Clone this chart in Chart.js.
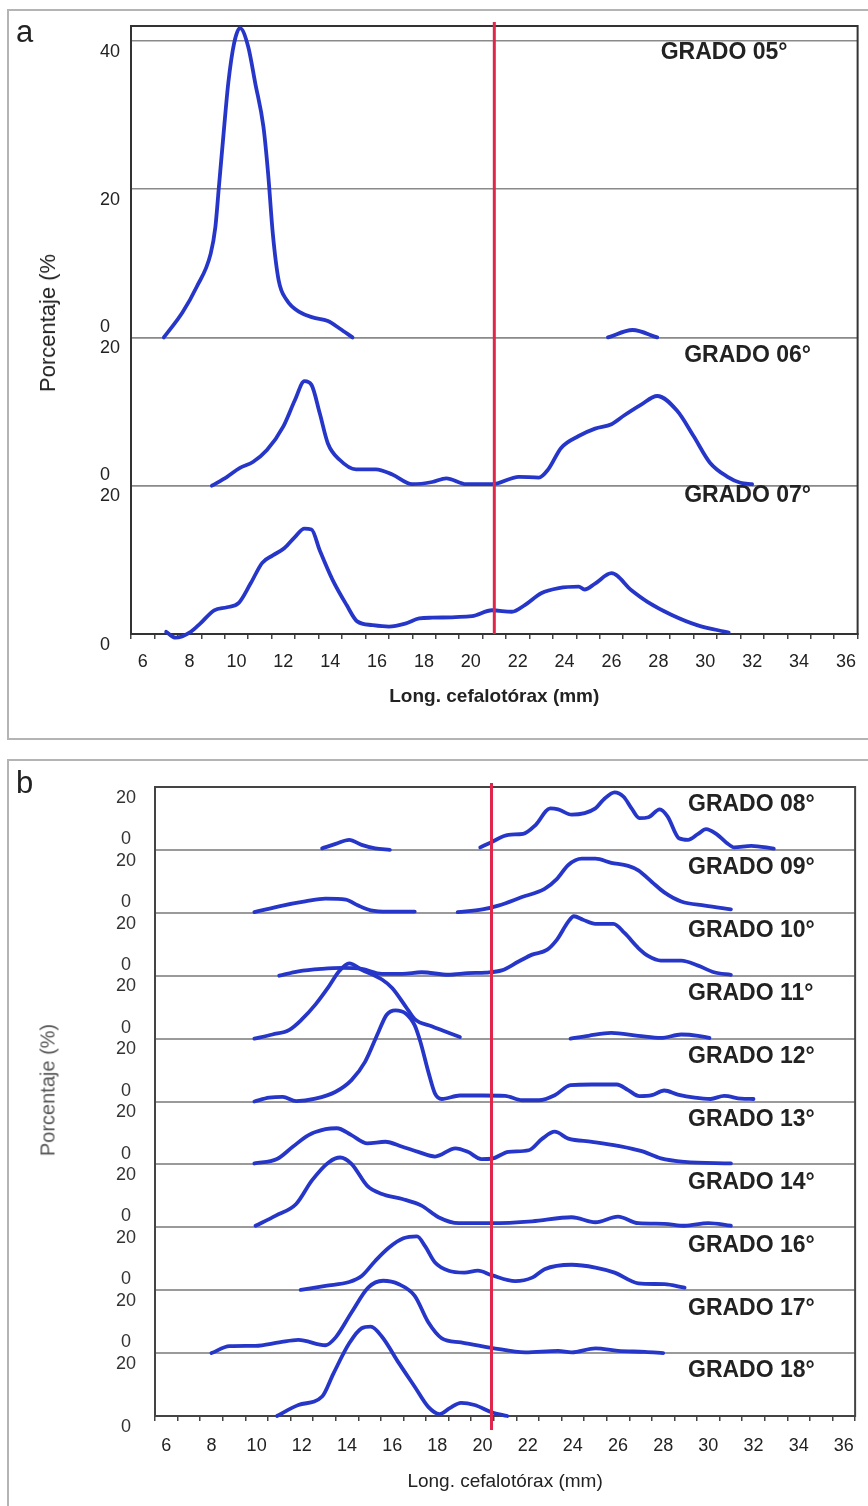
<!DOCTYPE html>
<html lang="es">
<head>
<meta charset="utf-8">
<title>Long. cefalotórax por grado</title>
<script src="https://cdn.jsdelivr.net/npm/chart.js@4.4.1/dist/chart.umd.min.js"></script>
<style>
  html, body { margin: 0; padding: 0; background: #fff; }
  body { position: relative; width: 868px; height: 1506px; overflow: hidden;
         font-family: "Liberation Sans", Arial, sans-serif; color: #222; }
  .box { position: absolute; border: 2px solid #b4b4b4; }
  #boxA { left: 7px; top: 9px; width: 880px; height: 727px; }
  #boxB { left: 7px; top: 759px; width: 880px; height: 780px; }
  canvas { position: absolute; left: 0; }
  #chartA { top: 0; }
  #chartB { top: 750px; }
  .panel { position: absolute; font-size: 31px; line-height: 31px; z-index: 2; }
  .ytitle { position: absolute; white-space: nowrap; z-index: 2;
            transform: translate(-50%, -50%) rotate(-90deg); }
</style>
</head>
<body>
<div class="box" id="boxA"></div>
<div class="box" id="boxB"></div>
<canvas id="chartA" width="868" height="745"></canvas>
<canvas id="chartB" width="868" height="756"></canvas>
<div class="panel" style="left:16px; top:16px;">a</div>
<div class="panel" style="left:16px; top:767px;">b</div>
<div class="ytitle" style="left:48px; top:323px; font-size:22px;">Porcentaje (%</div>
<div class="ytitle" style="left:48px; top:1090px; font-size:20px; color:#555;">Porcentaje (%)</div>
<script>
// eje x (mm) y marcas
const xLabels = [6, 8, 10, 12, 14, 16, 18, 20, 22, 24, 26, 28, 30, 32, 34, 36];
const ticksBig = [0, 20, 40];
const ticksBand = [0, 20];
const redLineA = 21;
const redLineB = 20.4;

// [long. cefalotorax, porcentaje] -- null corta la curva
const grado05 = [[6.9,0],[7.7,3.4],[8.3,6.8],[8.9,11.3],[9.1,14.9],[9.25,20.3],[9.45,27.5],[9.65,34.3],[9.9,39.7],[10.15,41.7],[10.5,39.2],[10.8,34.3],[11.15,28.4],[11.35,22.1],[11.55,14.0],[11.8,7.7],[12.15,5.0],[12.7,3.4],[13.25,2.7],[13.9,2.2],[14.4,1.2],[14.95,0],[20,null],[25.85,0],[26.9,1.0],[27.95,0]];
const grado06 = [[8.95,0],[9.6,1.2],[10.15,2.4],[10.7,3.2],[11.3,4.8],[12,8.0],[12.5,11.6],[12.9,14.1],[13.2,13.6],[13.55,9.8],[13.9,5.7],[14.4,3.5],[15.1,2.2],[15.95,2.2],[16.65,1.5],[17.5,0.2],[18.35,0.5],[18.95,1.0],[19.8,0.2],[20.9,0.2],[22.05,1.2],[22.9,1.1],[23.3,2.2],[23.85,5.1],[24.6,6.7],[25.3,7.7],[26,8.3],[26.55,9.5],[27.25,10.9],[27.95,12.1],[28.8,10.1],[29.5,6.7],[30.2,3.1],[30.95,1.2],[31.5,0.4],[32,0.2]];
const grado07 = [[7,0.3],[7.4,-0.5],[8.05,0.3],[8.45,1.4],[9.05,3.2],[9.6,3.6],[10.1,4.2],[10.6,6.8],[11.1,9.6],[11.55,10.6],[12.05,11.6],[12.5,13.1],[12.9,14.2],[13.2,14.1],[13.55,11.3],[14.1,7.3],[14.7,3.9],[15.15,1.7],[15.8,1.2],[16.5,1.0],[17.2,1.4],[17.8,2.1],[18.35,2.2],[20.05,2.4],[20.9,3.2],[21.75,3.0],[22.3,3.9],[23,5.5],[23.75,6.2],[24.6,6.4],[24.85,6.0],[25.3,6.8],[26,8.2],[26.85,5.9],[27.55,4.3],[28.55,2.6],[29.65,1.2],[31,0.2]];

const grado08 = [[12.9,0.5],[13.5,1.9],[14.1,3.2],[14.65,1.6],[15.25,0.5],[15.9,0],[18,null],[19.9,0.8],[20.35,2.3],[21.15,4.8],[21.8,5.1],[22.35,7.9],[23,13.2],[23.35,12.9],[23.95,11.2],[25,13.2],[25.35,15.9],[25.85,18.3],[26.25,16.9],[26.6,13.2],[26.95,10.1],[27.35,10.4],[27.85,12.9],[28.2,10.6],[28.7,3.7],[29.1,3.2],[29.55,5.1],[29.9,6.6],[30.35,5.1],[30.8,2.3],[31.15,0.8],[31.9,1.3],[32.9,0.4]];
const grado09 = [[9.9,0.2],[11.15,2.3],[12.15,3.6],[13.05,4.5],[13.95,4.2],[14.5,2.3],[15.05,0.8],[15.85,0.4],[17,0.4],[18,null],[18.9,0.2],[20,1.1],[20.7,2.3],[21.75,5.0],[22.75,7.6],[23.3,10.8],[23.8,15.2],[24.4,17.2],[25,17.2],[25.7,15.9],[26.45,14.9],[26.9,13.5],[27.5,9.8],[28.05,6.5],[28.8,3.6],[29.85,2.3],[31,1.1]];
const grado10 = [[11,0],[11.85,1.4],[12.9,2.2],[13.8,2.5],[14.65,2.2],[15.55,0.6],[16.45,0.6],[17.3,1.1],[18.5,0.3],[19.35,0.8],[20.15,1.0],[20.85,1.7],[21.6,4.5],[22.2,6.7],[22.85,8.2],[23.3,11.5],[23.8,17.2],[24.05,18.9],[24.45,17.8],[25,16.5],[25.8,16.5],[26.3,13.5],[26.9,8.8],[27.35,6.2],[27.9,4.8],[28.8,4.8],[29.55,3.2],[30.25,1.1],[31,0.3]];
const grado11 = [[9.9,0],[10.7,1.3],[11.45,2.8],[12,6.1],[12.6,10.8],[13.2,16.6],[13.65,21.4],[14.1,23.9],[14.65,21.9],[15.55,18.8],[16,16.1],[16.6,10.2],[17,6.2],[17.75,3.9],[19,0.5],[21,null],[23.9,0],[24.7,0.9],[25.7,1.8],[26.9,0.9],[27.9,0.2],[28.8,1.3],[29.55,0.9],[30.05,0.2]];
const grado12 = [[9.9,0],[10.55,1.2],[11.15,1.5],[11.75,0.1],[12.6,0.9],[13.5,3.1],[14.2,6.8],[14.8,12.6],[15.4,22.2],[15.75,27.5],[16.15,29.0],[16.6,28.0],[17,24.2],[17.25,19.0],[17.6,9.5],[17.9,2.5],[18.2,0.8],[19,1.9],[20,1.9],[21,1.8],[21.75,0.4],[22.5,0.4],[23.2,2.0],[23.9,5.2],[24.85,5.4],[25.95,5.4],[26.45,3.6],[26.95,1.7],[27.5,2.0],[28.05,3.5],[28.65,2.2],[29.4,1.2],[30.1,0.8],[30.7,1.8],[31.45,0.9],[32,0.8]];
const grado13 = [[9.9,0.3],[10.9,1.7],[11.6,5.6],[12.3,9.3],[13.05,11.2],[13.55,11.5],[14.2,9.3],[14.9,6.7],[15.7,7.2],[16.45,5.6],[17.15,4.0],[17.9,2.5],[18.8,5.1],[19.35,4.0],[19.95,1.7],[20.4,1.8],[21.15,4.0],[22.05,4.5],[22.65,8.2],[23.2,10.4],[23.8,8.2],[24.85,7.2],[26,5.9],[27.05,4.2],[27.9,1.9],[28.95,0.8],[31,0.3]];
const grado14 = [[9.95,0.5],[10.85,3.7],[11.75,7.4],[12.45,14.9],[13.2,20.7],[13.7,22.2],[14.2,20.2],[14.9,13.2],[15.55,10.6],[16.45,9.0],[17.3,6.9],[18.05,3.2],[18.95,1.3],[20.4,1.3],[22.2,1.9],[23.95,3.2],[25,1.6],[26,3.4],[26.9,1.3],[28.05,1.1],[28.95,0.5],[30,1.3],[31,0.5]];
const grado16 = [[11.95,0.1],[13.05,1.4],[14.1,2.6],[14.65,4.5],[15.25,9.3],[15.85,13.5],[16.5,16.5],[17.1,17.1],[17.45,14.1],[17.9,8.8],[18.5,6.2],[19.2,5.6],[19.8,6.2],[20.4,4.8],[21.45,2.9],[22.2,4.0],[22.75,6.7],[23.95,8.1],[25,7.2],[25.85,5.6],[26.9,2.2],[28.05,1.9],[28.95,0.8]];
const grado17 = [[8,0],[8.8,2.2],[9.95,2.3],[11,3.4],[11.85,4.2],[13.05,2.5],[13.5,5.0],[14.2,12.9],[14.95,20.9],[15.6,23.0],[16.3,21.9],[17,18.2],[17.6,9.8],[18.2,4.7],[19.05,3.4],[20.4,1.7],[21.9,0.2],[23.35,0.7],[23.95,0.2],[25,1.5],[26,0.7],[27.2,0.4],[28,0]];
const grado18 = [[10.9,0],[11.85,3.5],[12.9,6.2],[13.4,13.5],[14.1,23.1],[14.65,27.9],[15.05,28.4],[15.55,25.2],[16.3,16.8],[17,9.3],[17.6,2.9],[18.1,0.6],[18.55,2.5],[19.05,4.2],[19.65,3.5],[20.4,1.2],[21.1,0]];

const FONT = "'Liberation Sans', Arial, sans-serif";
const BLUE = '#2636c9';
const RED = '#e0264a';

// marcas menores del eje x cada 1 mm
const minorTicks = [];
for (let v = xLabels[0]; v <= xLabels[xLabels.length - 1]; v++) minorTicks.push(v);

const framePlugin = {
    id: 'frame',
    beforeDatasetsDraw(chart, args, opts) {
        const { ctx, chartArea: a } = chart;
        ctx.save();
        ctx.strokeStyle = opts.color;
        ctx.lineWidth = opts.width;
        ctx.strokeRect(a.left, a.top, a.right - a.left, a.bottom - a.top);
        ctx.restore();
    }
};

const refLinePlugin = {
    id: 'refLine',
    afterDatasetsDraw(chart, args, opts) {
        const { ctx, chartArea: a } = chart;
        const x = chart.scales.x.getPixelForValue(opts.value);
        ctx.save();
        ctx.strokeStyle = opts.color;
        ctx.lineWidth = opts.width;
        ctx.beginPath();
        ctx.moveTo(x, a.top - opts.above);
        ctx.lineTo(x, a.bottom + opts.below);
        ctx.stroke();
        ctx.restore();
    }
};

const bandLabelPlugin = {
    id: 'bandLabels',
    afterDatasetsDraw(chart, args, opts) {
        const { ctx } = chart;
        ctx.save();
        ctx.font = opts.font;
        ctx.fillStyle = opts.color;
        ctx.textAlign = 'left';
        ctx.textBaseline = 'middle';
        opts.items.forEach(it => {
            const sc = chart.scales[it.axis];
            ctx.fillText(it.text, chart.scales.x.getPixelForValue(it.x), sc.top + it.dy);
        });
        ctx.restore();
    }
};

function lineDataset(label, pairs, axis) {
    return {
        label: label,
        data: pairs.map(([x, y]) => ({ x, y })),
        xAxisID: 'x', yAxisID: axis,
        borderColor: BLUE, borderWidth: 3.8,
        pointRadius: 0, fill: false, spanGaps: false, clip: false,
        cubicInterpolationMode: 'monotone',
        borderCapStyle: 'round', borderJoinStyle: 'round'
    };
}

function xAxis(o) {
    return {
        type: 'linear', min: 5.5, max: 36.5,
        afterBuildTicks: s => { s.ticks = minorTicks.map(v => ({ value: v })); },
        afterFit: s => { s.height = o.height; },
        grid: { drawOnChartArea: false, offset: true, tickLength: 5, color: '#444', lineWidth: 1.5 },
        border: { color: '#333', width: 2 },
        ticks: {
            autoSkip: false, maxRotation: 0, padding: o.padding,
            font: { family: FONT, size: 18 }, color: '#222',
            callback: v => xLabels.includes(v) ? String(v) : ''
        },
        title: {
            display: true, text: 'Long. cefalotórax (mm)', padding: 0, color: '#222',
            font: { family: FONT, size: 19, weight: o.titleWeight }
        }
    };
}

function bandAxis(o) {
    return {
        type: 'linear', position: 'left',
        stack: o.stack, stackWeight: o.max, weight: o.order,
        min: 0, max: o.max,
        afterBuildTicks: s => { s.ticks = o.ticks.map(v => ({ value: v })); },
        // ancho fijo y sin margen extra por las etiquetas
        afterFit: s => { s.width = o.width; s.paddingTop = 0; s.paddingBottom = 0; },
        grid: {
            drawTicks: false, lineWidth: o.gridWidth,
            color: c => (o.bottom && c.tick && c.tick.value === 0) ? 'transparent' : o.gridColor
        },
        border: { color: '#333', width: 2 },
        ticks: {
            autoSkip: false, crossAlign: o.crossAlign, padding: o.padding,
            font: { family: FONT, size: 18 }, color: o.tickColor,
            // "0" sube y "20" baja para no chocar con la banda vecina
            callback: v => v === 0 ? (o.bottom ? ['', '0'] : ['0', '']) : ['', String(v)]
        }
    };
}

Chart.defaults.font.family = FONT;

// ---- panel a ----
const axisA = { stack: 'a', width: 31, crossAlign: 'far', padding: 0,
                gridColor: '#8a8a8a', gridWidth: 1.5, tickColor: '#222' };

new Chart(document.getElementById('chartA'), {
    type: 'line',
    data: {
        datasets: [
            lineDataset('GRADO 05°', grado05, 'y05'),
            lineDataset('GRADO 06°', grado06, 'y06'),
            lineDataset('GRADO 07°', grado07, 'y07')
        ]
    },
    options: {
        responsive: false, animation: false,
        layout: { padding: { left: 100, top: 26, right: 6, bottom: 37 } },
        plugins: {
            legend: { display: false }, tooltip: { enabled: false },
            frame: { color: '#333', width: 2 },
            refLine: { value: redLineA, color: RED, width: 3, above: 4, below: 0 },
            bandLabels: {
                font: "bold 23px " + FONT, color: '#222',
                items: [
                    { text: 'GRADO 05°', axis: 'y05', x: 28.1, dy: 27 },
                    { text: 'GRADO 06°', axis: 'y06', x: 29.1, dy: 18 },
                    { text: 'GRADO 07°', axis: 'y07', x: 29.1, dy: 10 }
                ]
            }
        },
        scales: {
            x: xAxis({ height: 74, padding: 12, titleWeight: 'bold' }),
            y05: bandAxis({ ...axisA, max: 42, ticks: ticksBig, order: 3 }),
            y06: bandAxis({ ...axisA, max: 20, ticks: ticksBand, order: 2 }),
            y07: bandAxis({ ...axisA, max: 20, ticks: ticksBand, order: 1, bottom: true })
        }
    },
    plugins: [framePlugin, refLinePlugin, bandLabelPlugin]
});

// ---- panel b ----
const bandsB = [
    ['GRADO 08°', grado08], ['GRADO 09°', grado09], ['GRADO 10°', grado10],
    ['GRADO 11°', grado11], ['GRADO 12°', grado12], ['GRADO 13°', grado13],
    ['GRADO 14°', grado14], ['GRADO 16°', grado16], ['GRADO 17°', grado17],
    ['GRADO 18°', grado18]
];
const axisB = { stack: 'b', width: 55, crossAlign: 'center', padding: 19,
                gridColor: '#9a9a9a', gridWidth: 2, tickColor: '#333', max: 20, ticks: ticksBand };

const scalesB = { x: xAxis({ height: 77, padding: 14, titleWeight: 'normal' }) };
bandsB.forEach(([name], i) => {
    scalesB['yb' + i] = bandAxis({ ...axisB, order: bandsB.length - i, bottom: i === bandsB.length - 1 });
});

new Chart(document.getElementById('chartB'), {
    type: 'line',
    data: { datasets: bandsB.map(([name, pairs], i) => lineDataset(name, pairs, 'yb' + i)) },
    options: {
        responsive: false, animation: false,
        layout: { padding: { left: 100, top: 37, right: 10, bottom: 13 } },
        plugins: {
            legend: { display: false }, tooltip: { enabled: false },
            frame: { color: '#444', width: 2 },
            refLine: { value: redLineB, color: RED, width: 3, above: 4, below: 14 },
            bandLabels: {
                font: "bold 23px " + FONT, color: '#222',
                items: bandsB.map(([name], i) => ({ text: name, axis: 'yb' + i, x: 29.1, dy: 18 }))
            }
        },
        scales: scalesB
    },
    plugins: [framePlugin, refLinePlugin, bandLabelPlugin]
});
</script>
</body>
</html>
